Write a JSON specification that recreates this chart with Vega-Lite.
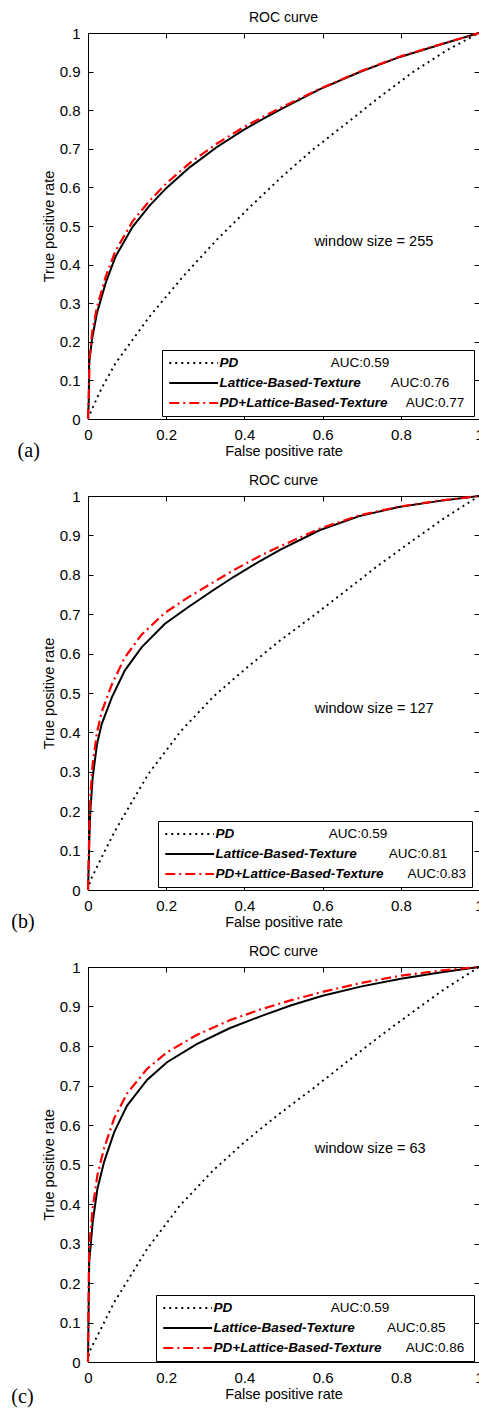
{
  "$schema": "https://vega.github.io/schema/vega-lite/v6.json",
  "background": "white",
  "padding": {"left": 10, "top": 10, "right": 0, "bottom": 0},
  "spacing": 11,
  "config": {
    "font": "Liberation Sans",
    "view": {"stroke": "#000", "strokeWidth": 1},
    "axis": {"grid": false, "domain": false, "tickColor": "#000", "tickWidth": 1, "tickSize": -5, "labelColor": "#000", "labelFontSize": 15, "labelPadding": 13, "labelFlush": false, "labelOverlap": false, "titleFontSize": 14.5, "titleFontWeight": "normal", "titleColor": "#000", "format": "~g"},
    "axisX": {"titlePadding": 2},
    "axisY": {"titlePadding": 3},
    "title": {"fontSize": 14, "fontWeight": "normal", "color": "#000", "offset": 1},
    "legend": {"orient": "none", "title": null, "symbolType": "M-1,0H7.5", "symbolSize": 132, "symbolStrokeWidth": 2, "labelFontSize": 13.5, "labelColor": "#000", "labelLimit": 500, "labelOffset": 37.5, "padding": 6, "rowPadding": 6}
  },
  "datasets": {
    "a": [
      {"series": "PD", "fpr": 0, "tpr": 0, "auc": "AUC:0.59"},
      {"series": "PD", "fpr": 0.01, "tpr": 0.025, "auc": "AUC:0.59"},
      {"series": "PD", "fpr": 0.035, "tpr": 0.08, "auc": "AUC:0.59"},
      {"series": "PD", "fpr": 0.07, "tpr": 0.144, "auc": "AUC:0.59"},
      {"series": "PD", "fpr": 0.157, "tpr": 0.265, "auc": "AUC:0.59"},
      {"series": "PD", "fpr": 0.243, "tpr": 0.369, "auc": "AUC:0.59"},
      {"series": "PD", "fpr": 0.329, "tpr": 0.464, "auc": "AUC:0.59"},
      {"series": "PD", "fpr": 0.415, "tpr": 0.55, "auc": "AUC:0.59"},
      {"series": "PD", "fpr": 0.494, "tpr": 0.626, "auc": "AUC:0.59"},
      {"series": "PD", "fpr": 0.574, "tpr": 0.697, "auc": "AUC:0.59"},
      {"series": "PD", "fpr": 0.661, "tpr": 0.766, "auc": "AUC:0.59"},
      {"series": "PD", "fpr": 0.747, "tpr": 0.835, "auc": "AUC:0.59"},
      {"series": "PD", "fpr": 0.833, "tpr": 0.9, "auc": "AUC:0.59"},
      {"series": "PD", "fpr": 0.919, "tpr": 0.956, "auc": "AUC:0.59"},
      {"series": "PD", "fpr": 1, "tpr": 1, "auc": "AUC:0.59"},
      {"series": "Lattice-Based-Texture", "fpr": 0, "tpr": 0, "auc": "AUC:0.76"},
      {"series": "Lattice-Based-Texture", "fpr": 0.002, "tpr": 0.05, "auc": "AUC:0.76"},
      {"series": "Lattice-Based-Texture", "fpr": 0.003, "tpr": 0.145, "auc": "AUC:0.76"},
      {"series": "Lattice-Based-Texture", "fpr": 0.01, "tpr": 0.205, "auc": "AUC:0.76"},
      {"series": "Lattice-Based-Texture", "fpr": 0.023, "tpr": 0.275, "auc": "AUC:0.76"},
      {"series": "Lattice-Based-Texture", "fpr": 0.045, "tpr": 0.352, "auc": "AUC:0.76"},
      {"series": "Lattice-Based-Texture", "fpr": 0.07, "tpr": 0.42, "auc": "AUC:0.76"},
      {"series": "Lattice-Based-Texture", "fpr": 0.114, "tpr": 0.498, "auc": "AUC:0.76"},
      {"series": "Lattice-Based-Texture", "fpr": 0.157, "tpr": 0.552, "auc": "AUC:0.76"},
      {"series": "Lattice-Based-Texture", "fpr": 0.2, "tpr": 0.598, "auc": "AUC:0.76"},
      {"series": "Lattice-Based-Texture", "fpr": 0.26, "tpr": 0.652, "auc": "AUC:0.76"},
      {"series": "Lattice-Based-Texture", "fpr": 0.329, "tpr": 0.704, "auc": "AUC:0.76"},
      {"series": "Lattice-Based-Texture", "fpr": 0.398, "tpr": 0.749, "auc": "AUC:0.76"},
      {"series": "Lattice-Based-Texture", "fpr": 0.45, "tpr": 0.779, "auc": "AUC:0.76"},
      {"series": "Lattice-Based-Texture", "fpr": 0.5, "tpr": 0.806, "auc": "AUC:0.76"},
      {"series": "Lattice-Based-Texture", "fpr": 0.592, "tpr": 0.854, "auc": "AUC:0.76"},
      {"series": "Lattice-Based-Texture", "fpr": 0.695, "tpr": 0.899, "auc": "AUC:0.76"},
      {"series": "Lattice-Based-Texture", "fpr": 0.798, "tpr": 0.938, "auc": "AUC:0.76"},
      {"series": "Lattice-Based-Texture", "fpr": 0.902, "tpr": 0.97, "auc": "AUC:0.76"},
      {"series": "Lattice-Based-Texture", "fpr": 1, "tpr": 1, "auc": "AUC:0.76"},
      {"series": "PD+Lattice-Based-Texture", "fpr": 0, "tpr": 0, "auc": "AUC:0.77"},
      {"series": "PD+Lattice-Based-Texture", "fpr": 0.002, "tpr": 0.06, "auc": "AUC:0.77"},
      {"series": "PD+Lattice-Based-Texture", "fpr": 0.004, "tpr": 0.16, "auc": "AUC:0.77"},
      {"series": "PD+Lattice-Based-Texture", "fpr": 0.01, "tpr": 0.22, "auc": "AUC:0.77"},
      {"series": "PD+Lattice-Based-Texture", "fpr": 0.023, "tpr": 0.29, "auc": "AUC:0.77"},
      {"series": "PD+Lattice-Based-Texture", "fpr": 0.045, "tpr": 0.368, "auc": "AUC:0.77"},
      {"series": "PD+Lattice-Based-Texture", "fpr": 0.07, "tpr": 0.435, "auc": "AUC:0.77"},
      {"series": "PD+Lattice-Based-Texture", "fpr": 0.114, "tpr": 0.512, "auc": "AUC:0.77"},
      {"series": "PD+Lattice-Based-Texture", "fpr": 0.157, "tpr": 0.565, "auc": "AUC:0.77"},
      {"series": "PD+Lattice-Based-Texture", "fpr": 0.2, "tpr": 0.61, "auc": "AUC:0.77"},
      {"series": "PD+Lattice-Based-Texture", "fpr": 0.26, "tpr": 0.663, "auc": "AUC:0.77"},
      {"series": "PD+Lattice-Based-Texture", "fpr": 0.329, "tpr": 0.713, "auc": "AUC:0.77"},
      {"series": "PD+Lattice-Based-Texture", "fpr": 0.398, "tpr": 0.756, "auc": "AUC:0.77"},
      {"series": "PD+Lattice-Based-Texture", "fpr": 0.45, "tpr": 0.784, "auc": "AUC:0.77"},
      {"series": "PD+Lattice-Based-Texture", "fpr": 0.5, "tpr": 0.81, "auc": "AUC:0.77"},
      {"series": "PD+Lattice-Based-Texture", "fpr": 0.592, "tpr": 0.855, "auc": "AUC:0.77"},
      {"series": "PD+Lattice-Based-Texture", "fpr": 0.695, "tpr": 0.9, "auc": "AUC:0.77"},
      {"series": "PD+Lattice-Based-Texture", "fpr": 0.798, "tpr": 0.939, "auc": "AUC:0.77"},
      {"series": "PD+Lattice-Based-Texture", "fpr": 0.902, "tpr": 0.971, "auc": "AUC:0.77"},
      {"series": "PD+Lattice-Based-Texture", "fpr": 1, "tpr": 1, "auc": "AUC:0.77"}
    ],
    "b": [
      {"series": "PD", "fpr": 0, "tpr": 0, "auc": "AUC:0.59"},
      {"series": "PD", "fpr": 0.006, "tpr": 0.024, "auc": "AUC:0.59"},
      {"series": "PD", "fpr": 0.035, "tpr": 0.083, "auc": "AUC:0.59"},
      {"series": "PD", "fpr": 0.069, "tpr": 0.15, "auc": "AUC:0.59"},
      {"series": "PD", "fpr": 0.154, "tpr": 0.294, "auc": "AUC:0.59"},
      {"series": "PD", "fpr": 0.238, "tpr": 0.404, "auc": "AUC:0.59"},
      {"series": "PD", "fpr": 0.322, "tpr": 0.492, "auc": "AUC:0.59"},
      {"series": "PD", "fpr": 0.407, "tpr": 0.565, "auc": "AUC:0.59"},
      {"series": "PD", "fpr": 0.491, "tpr": 0.633, "auc": "AUC:0.59"},
      {"series": "PD", "fpr": 0.575, "tpr": 0.695, "auc": "AUC:0.59"},
      {"series": "PD", "fpr": 0.66, "tpr": 0.76, "auc": "AUC:0.59"},
      {"series": "PD", "fpr": 0.744, "tpr": 0.825, "auc": "AUC:0.59"},
      {"series": "PD", "fpr": 0.829, "tpr": 0.886, "auc": "AUC:0.59"},
      {"series": "PD", "fpr": 0.913, "tpr": 0.945, "auc": "AUC:0.59"},
      {"series": "PD", "fpr": 1, "tpr": 1, "auc": "AUC:0.59"},
      {"series": "Lattice-Based-Texture", "fpr": 0, "tpr": 0, "auc": "AUC:0.81"},
      {"series": "Lattice-Based-Texture", "fpr": 0.002, "tpr": 0.07, "auc": "AUC:0.81"},
      {"series": "Lattice-Based-Texture", "fpr": 0.004, "tpr": 0.15, "auc": "AUC:0.81"},
      {"series": "Lattice-Based-Texture", "fpr": 0.006, "tpr": 0.2, "auc": "AUC:0.81"},
      {"series": "Lattice-Based-Texture", "fpr": 0.012, "tpr": 0.286, "auc": "AUC:0.81"},
      {"series": "Lattice-Based-Texture", "fpr": 0.023, "tpr": 0.37, "auc": "AUC:0.81"},
      {"series": "Lattice-Based-Texture", "fpr": 0.035, "tpr": 0.421, "auc": "AUC:0.81"},
      {"series": "Lattice-Based-Texture", "fpr": 0.061, "tpr": 0.489, "auc": "AUC:0.81"},
      {"series": "Lattice-Based-Texture", "fpr": 0.094, "tpr": 0.557, "auc": "AUC:0.81"},
      {"series": "Lattice-Based-Texture", "fpr": 0.137, "tpr": 0.616, "auc": "AUC:0.81"},
      {"series": "Lattice-Based-Texture", "fpr": 0.196, "tpr": 0.675, "auc": "AUC:0.81"},
      {"series": "Lattice-Based-Texture", "fpr": 0.255, "tpr": 0.717, "auc": "AUC:0.81"},
      {"series": "Lattice-Based-Texture", "fpr": 0.322, "tpr": 0.762, "auc": "AUC:0.81"},
      {"series": "Lattice-Based-Texture", "fpr": 0.373, "tpr": 0.795, "auc": "AUC:0.81"},
      {"series": "Lattice-Based-Texture", "fpr": 0.44, "tpr": 0.835, "auc": "AUC:0.81"},
      {"series": "Lattice-Based-Texture", "fpr": 0.491, "tpr": 0.863, "auc": "AUC:0.81"},
      {"series": "Lattice-Based-Texture", "fpr": 0.592, "tpr": 0.913, "auc": "AUC:0.81"},
      {"series": "Lattice-Based-Texture", "fpr": 0.694, "tpr": 0.949, "auc": "AUC:0.81"},
      {"series": "Lattice-Based-Texture", "fpr": 0.795, "tpr": 0.972, "auc": "AUC:0.81"},
      {"series": "Lattice-Based-Texture", "fpr": 0.896, "tpr": 0.987, "auc": "AUC:0.81"},
      {"series": "Lattice-Based-Texture", "fpr": 1, "tpr": 1, "auc": "AUC:0.81"},
      {"series": "PD+Lattice-Based-Texture", "fpr": 0, "tpr": 0, "auc": "AUC:0.83"},
      {"series": "PD+Lattice-Based-Texture", "fpr": 0.002, "tpr": 0.09, "auc": "AUC:0.83"},
      {"series": "PD+Lattice-Based-Texture", "fpr": 0.004, "tpr": 0.18, "auc": "AUC:0.83"},
      {"series": "PD+Lattice-Based-Texture", "fpr": 0.006, "tpr": 0.24, "auc": "AUC:0.83"},
      {"series": "PD+Lattice-Based-Texture", "fpr": 0.012, "tpr": 0.32, "auc": "AUC:0.83"},
      {"series": "PD+Lattice-Based-Texture", "fpr": 0.023, "tpr": 0.4, "auc": "AUC:0.83"},
      {"series": "PD+Lattice-Based-Texture", "fpr": 0.035, "tpr": 0.452, "auc": "AUC:0.83"},
      {"series": "PD+Lattice-Based-Texture", "fpr": 0.061, "tpr": 0.522, "auc": "AUC:0.83"},
      {"series": "PD+Lattice-Based-Texture", "fpr": 0.094, "tpr": 0.59, "auc": "AUC:0.83"},
      {"series": "PD+Lattice-Based-Texture", "fpr": 0.137, "tpr": 0.648, "auc": "AUC:0.83"},
      {"series": "PD+Lattice-Based-Texture", "fpr": 0.196, "tpr": 0.703, "auc": "AUC:0.83"},
      {"series": "PD+Lattice-Based-Texture", "fpr": 0.255, "tpr": 0.742, "auc": "AUC:0.83"},
      {"series": "PD+Lattice-Based-Texture", "fpr": 0.322, "tpr": 0.782, "auc": "AUC:0.83"},
      {"series": "PD+Lattice-Based-Texture", "fpr": 0.373, "tpr": 0.812, "auc": "AUC:0.83"},
      {"series": "PD+Lattice-Based-Texture", "fpr": 0.44, "tpr": 0.848, "auc": "AUC:0.83"},
      {"series": "PD+Lattice-Based-Texture", "fpr": 0.491, "tpr": 0.872, "auc": "AUC:0.83"},
      {"series": "PD+Lattice-Based-Texture", "fpr": 0.592, "tpr": 0.917, "auc": "AUC:0.83"},
      {"series": "PD+Lattice-Based-Texture", "fpr": 0.694, "tpr": 0.951, "auc": "AUC:0.83"},
      {"series": "PD+Lattice-Based-Texture", "fpr": 0.795, "tpr": 0.973, "auc": "AUC:0.83"},
      {"series": "PD+Lattice-Based-Texture", "fpr": 0.896, "tpr": 0.988, "auc": "AUC:0.83"},
      {"series": "PD+Lattice-Based-Texture", "fpr": 1, "tpr": 1, "auc": "AUC:0.83"}
    ],
    "c": [
      {"series": "PD", "fpr": 0, "tpr": 0, "auc": "AUC:0.59"},
      {"series": "PD", "fpr": 0.003, "tpr": 0.025, "auc": "AUC:0.59"},
      {"series": "PD", "fpr": 0.033, "tpr": 0.084, "auc": "AUC:0.59"},
      {"series": "PD", "fpr": 0.067, "tpr": 0.151, "auc": "AUC:0.59"},
      {"series": "PD", "fpr": 0.151, "tpr": 0.286, "auc": "AUC:0.59"},
      {"series": "PD", "fpr": 0.235, "tpr": 0.396, "auc": "AUC:0.59"},
      {"series": "PD", "fpr": 0.32, "tpr": 0.485, "auc": "AUC:0.59"},
      {"series": "PD", "fpr": 0.404, "tpr": 0.56, "auc": "AUC:0.59"},
      {"series": "PD", "fpr": 0.489, "tpr": 0.628, "auc": "AUC:0.59"},
      {"series": "PD", "fpr": 0.575, "tpr": 0.692, "auc": "AUC:0.59"},
      {"series": "PD", "fpr": 0.66, "tpr": 0.758, "auc": "AUC:0.59"},
      {"series": "PD", "fpr": 0.744, "tpr": 0.823, "auc": "AUC:0.59"},
      {"series": "PD", "fpr": 0.829, "tpr": 0.885, "auc": "AUC:0.59"},
      {"series": "PD", "fpr": 0.913, "tpr": 0.945, "auc": "AUC:0.59"},
      {"series": "PD", "fpr": 1, "tpr": 1, "auc": "AUC:0.59"},
      {"series": "Lattice-Based-Texture", "fpr": 0, "tpr": 0, "auc": "AUC:0.85"},
      {"series": "Lattice-Based-Texture", "fpr": 0.001, "tpr": 0.083, "auc": "AUC:0.85"},
      {"series": "Lattice-Based-Texture", "fpr": 0.003, "tpr": 0.252, "auc": "AUC:0.85"},
      {"series": "Lattice-Based-Texture", "fpr": 0.012, "tpr": 0.354, "auc": "AUC:0.85"},
      {"series": "Lattice-Based-Texture", "fpr": 0.024, "tpr": 0.438, "auc": "AUC:0.85"},
      {"series": "Lattice-Based-Texture", "fpr": 0.041, "tpr": 0.506, "auc": "AUC:0.85"},
      {"series": "Lattice-Based-Texture", "fpr": 0.067, "tpr": 0.582, "auc": "AUC:0.85"},
      {"series": "Lattice-Based-Texture", "fpr": 0.1, "tpr": 0.649, "auc": "AUC:0.85"},
      {"series": "Lattice-Based-Texture", "fpr": 0.151, "tpr": 0.714, "auc": "AUC:0.85"},
      {"series": "Lattice-Based-Texture", "fpr": 0.202, "tpr": 0.759, "auc": "AUC:0.85"},
      {"series": "Lattice-Based-Texture", "fpr": 0.278, "tpr": 0.805, "auc": "AUC:0.85"},
      {"series": "Lattice-Based-Texture", "fpr": 0.362, "tpr": 0.845, "auc": "AUC:0.85"},
      {"series": "Lattice-Based-Texture", "fpr": 0.446, "tpr": 0.877, "auc": "AUC:0.85"},
      {"series": "Lattice-Based-Texture", "fpr": 0.52, "tpr": 0.903, "auc": "AUC:0.85"},
      {"series": "Lattice-Based-Texture", "fpr": 0.6, "tpr": 0.927, "auc": "AUC:0.85"},
      {"series": "Lattice-Based-Texture", "fpr": 0.7, "tpr": 0.951, "auc": "AUC:0.85"},
      {"series": "Lattice-Based-Texture", "fpr": 0.8, "tpr": 0.97, "auc": "AUC:0.85"},
      {"series": "Lattice-Based-Texture", "fpr": 0.9, "tpr": 0.986, "auc": "AUC:0.85"},
      {"series": "Lattice-Based-Texture", "fpr": 1, "tpr": 1, "auc": "AUC:0.85"},
      {"series": "PD+Lattice-Based-Texture", "fpr": 0, "tpr": 0, "auc": "AUC:0.86"},
      {"series": "PD+Lattice-Based-Texture", "fpr": 0.001, "tpr": 0.12, "auc": "AUC:0.86"},
      {"series": "PD+Lattice-Based-Texture", "fpr": 0.003, "tpr": 0.29, "auc": "AUC:0.86"},
      {"series": "PD+Lattice-Based-Texture", "fpr": 0.012, "tpr": 0.39, "auc": "AUC:0.86"},
      {"series": "PD+Lattice-Based-Texture", "fpr": 0.024, "tpr": 0.473, "auc": "AUC:0.86"},
      {"series": "PD+Lattice-Based-Texture", "fpr": 0.041, "tpr": 0.541, "auc": "AUC:0.86"},
      {"series": "PD+Lattice-Based-Texture", "fpr": 0.067, "tpr": 0.617, "auc": "AUC:0.86"},
      {"series": "PD+Lattice-Based-Texture", "fpr": 0.1, "tpr": 0.68, "auc": "AUC:0.86"},
      {"series": "PD+Lattice-Based-Texture", "fpr": 0.151, "tpr": 0.742, "auc": "AUC:0.86"},
      {"series": "PD+Lattice-Based-Texture", "fpr": 0.202, "tpr": 0.784, "auc": "AUC:0.86"},
      {"series": "PD+Lattice-Based-Texture", "fpr": 0.278, "tpr": 0.828, "auc": "AUC:0.86"},
      {"series": "PD+Lattice-Based-Texture", "fpr": 0.362, "tpr": 0.865, "auc": "AUC:0.86"},
      {"series": "PD+Lattice-Based-Texture", "fpr": 0.446, "tpr": 0.894, "auc": "AUC:0.86"},
      {"series": "PD+Lattice-Based-Texture", "fpr": 0.52, "tpr": 0.916, "auc": "AUC:0.86"},
      {"series": "PD+Lattice-Based-Texture", "fpr": 0.6, "tpr": 0.937, "auc": "AUC:0.86"},
      {"series": "PD+Lattice-Based-Texture", "fpr": 0.7, "tpr": 0.96, "auc": "AUC:0.86"},
      {"series": "PD+Lattice-Based-Texture", "fpr": 0.8, "tpr": 0.978, "auc": "AUC:0.86"},
      {"series": "PD+Lattice-Based-Texture", "fpr": 0.9, "tpr": 0.991, "auc": "AUC:0.86"},
      {"series": "PD+Lattice-Based-Texture", "fpr": 1, "tpr": 1, "auc": "AUC:0.86"}
    ]
  },
  "resolve": {
    "scale": {"x": "independent", "y": "independent", "color": "independent", "strokeDash": "independent", "opacity": "independent"},
    "legend": {"color": "independent", "strokeDash": "independent", "opacity": "independent"}
  },
  "vconcat": [
    {
      "width": 391, "height": 386,
      "title": "ROC curve",
      "data": {"name": "a"},
      "resolve": {"axis": {"x": "independent", "y": "independent"}},
      "layer": [
        {
          "transform": [{"filter": "datum.series == 'PD'"}],
          "mark": {"type": "line", "strokeWidth": 1.9},
          "encoding": {
            "x": {"field": "fpr", "type": "quantitative", "scale": {"domain": [0, 1], "nice": false}, "axis": {"orient": "bottom", "values": [0, 0.2, 0.4, 0.6, 0.8, 1], "title": "False positive rate"}},
            "y": {"field": "tpr", "type": "quantitative", "scale": {"domain": [0, 1], "nice": false}, "axis": {"orient": "left", "values": [0, 0.1, 0.2, 0.3, 0.4, 0.5, 0.6, 0.7, 0.8, 0.9, 1], "title": "True positive rate"}},
            "color": {"field": "series", "type": "nominal", "scale": {"domain": ["PD", "Lattice-Based-Texture", "PD+Lattice-Based-Texture"], "range": ["#000000", "#000000", "#ff0000"]}, "legend": {"legendX": 74, "legendY": 317, "labelFontStyle": "italic", "labelFontWeight": "bold", "zindex": 2}},
            "strokeDash": {"field": "series", "type": "nominal", "scale": {"domain": ["PD", "Lattice-Based-Texture", "PD+Lattice-Based-Texture"], "range": [[2, 4], [1, 0], [10, 4, 2, 4]]}, "legend": {"legendX": 74, "legendY": 317, "labelFontStyle": "italic", "labelFontWeight": "bold", "zindex": 2}},
            "opacity": {"field": "auc", "type": "nominal", "scale": {"domain": ["AUC:0.59", "AUC:0.76", "AUC:0.77"], "range": [1, 1]}, "legend": {"legendX": 74, "legendY": 317, "labelAlign": "right", "labelOffset": 286, "symbolStrokeColor": "transparent", "symbolFillColor": "transparent", "fillColor": "white", "strokeColor": "black", "zindex": 1, "labelExpr": "datum.label + (datum.label == 'AUC:0.59' ? pad('', 21, '\u00a0') : datum.label == 'AUC:0.76' ? pad('', 5, '\u00a0') : pad('', 1, '\u00a0')) + '\u200b'"}}
          }
        },
        {
          "transform": [{"filter": "datum.series == 'Lattice-Based-Texture'"}],
          "mark": {"type": "line", "strokeWidth": 2, "color": "#000000"},
          "encoding": {
            "x": {"field": "fpr", "type": "quantitative", "scale": {"domain": [0, 1], "nice": false}, "axis": {"orient": "top", "values": [0, 0.2, 0.4, 0.6, 0.8, 1], "labels": false, "title": null}},
            "y": {"field": "tpr", "type": "quantitative", "scale": {"domain": [0, 1], "nice": false}, "axis": {"orient": "right", "values": [0, 0.1, 0.2, 0.3, 0.4, 0.5, 0.6, 0.7, 0.8, 0.9, 1], "labels": false, "title": null}}
          }
        },
        {
          "transform": [{"filter": "datum.series == 'PD+Lattice-Based-Texture'"}],
          "mark": {"type": "line", "strokeWidth": 2.2, "color": "#ff0000", "strokeDash": [10, 4, 2, 4]},
          "encoding": {
            "x": {"field": "fpr", "type": "quantitative", "scale": {"domain": [0, 1], "nice": false}, "axis": null},
            "y": {"field": "tpr", "type": "quantitative", "scale": {"domain": [0, 1], "nice": false}, "axis": null}
          }
        },
        {
          "data": {"values": [{"note": "window size = 255"}]},
          "mark": {"type": "text", "align": "left", "baseline": "middle", "fontSize": 14.5, "color": "#000"},
          "encoding": {
            "x": {"datum": 0.579, "type": "quantitative", "scale": {"domain": [0, 1], "nice": false}, "axis": null},
            "y": {"datum": 0.459, "type": "quantitative", "scale": {"domain": [0, 1], "nice": false}, "axis": null},
            "text": {"field": "note"}
          }
        },
        {
          "data": {"values": [{"tag": "(a)"}]},
          "mark": {"type": "text", "align": "left", "baseline": "middle", "fontSize": 20, "font": "Liberation Serif", "color": "#000"},
          "encoding": {
            "x": {"datum": -0.18, "type": "quantitative", "scale": {"domain": [0, 1], "nice": false}, "axis": null},
            "y": {"datum": -0.083, "type": "quantitative", "scale": {"domain": [0, 1], "nice": false}, "axis": null},
            "text": {"field": "tag"}
          }
        }
      ]
    },
    {
      "width": 391, "height": 394,
      "title": "ROC curve",
      "data": {"name": "b"},
      "resolve": {"axis": {"x": "independent", "y": "independent"}},
      "layer": [
        {
          "transform": [{"filter": "datum.series == 'PD'"}],
          "mark": {"type": "line", "strokeWidth": 1.9},
          "encoding": {
            "x": {"field": "fpr", "type": "quantitative", "scale": {"domain": [0, 1], "nice": false}, "axis": {"orient": "bottom", "values": [0, 0.2, 0.4, 0.6, 0.8, 1], "title": "False positive rate"}},
            "y": {"field": "tpr", "type": "quantitative", "scale": {"domain": [0, 1], "nice": false}, "axis": {"orient": "left", "values": [0, 0.1, 0.2, 0.3, 0.4, 0.5, 0.6, 0.7, 0.8, 0.9, 1], "title": "True positive rate"}},
            "color": {"field": "series", "type": "nominal", "scale": {"domain": ["PD", "Lattice-Based-Texture", "PD+Lattice-Based-Texture"], "range": ["#000000", "#000000", "#ff0000"]}, "legend": {"legendX": 70, "legendY": 325, "labelFontStyle": "italic", "labelFontWeight": "bold", "zindex": 2}},
            "strokeDash": {"field": "series", "type": "nominal", "scale": {"domain": ["PD", "Lattice-Based-Texture", "PD+Lattice-Based-Texture"], "range": [[2, 4], [1, 0], [10, 4, 2, 4]]}, "legend": {"legendX": 70, "legendY": 325, "labelFontStyle": "italic", "labelFontWeight": "bold", "zindex": 2}},
            "opacity": {"field": "auc", "type": "nominal", "scale": {"domain": ["AUC:0.59", "AUC:0.81", "AUC:0.83"], "range": [1, 1]}, "legend": {"legendX": 70, "legendY": 325, "labelAlign": "right", "labelOffset": 288, "symbolStrokeColor": "transparent", "symbolFillColor": "transparent", "fillColor": "white", "strokeColor": "black", "zindex": 1, "labelExpr": "datum.label + (datum.label == 'AUC:0.59' ? pad('', 21, '\u00a0') : datum.label == 'AUC:0.81' ? pad('', 5, '\u00a0') : '') + '\u200b'"}}
          }
        },
        {
          "transform": [{"filter": "datum.series == 'Lattice-Based-Texture'"}],
          "mark": {"type": "line", "strokeWidth": 2, "color": "#000000"},
          "encoding": {
            "x": {"field": "fpr", "type": "quantitative", "scale": {"domain": [0, 1], "nice": false}, "axis": {"orient": "top", "values": [0, 0.2, 0.4, 0.6, 0.8, 1], "labels": false, "title": null}},
            "y": {"field": "tpr", "type": "quantitative", "scale": {"domain": [0, 1], "nice": false}, "axis": {"orient": "right", "values": [0, 0.1, 0.2, 0.3, 0.4, 0.5, 0.6, 0.7, 0.8, 0.9, 1], "labels": false, "title": null}}
          }
        },
        {
          "transform": [{"filter": "datum.series == 'PD+Lattice-Based-Texture'"}],
          "mark": {"type": "line", "strokeWidth": 2.2, "color": "#ff0000", "strokeDash": [10, 4, 2, 4]},
          "encoding": {
            "x": {"field": "fpr", "type": "quantitative", "scale": {"domain": [0, 1], "nice": false}, "axis": null},
            "y": {"field": "tpr", "type": "quantitative", "scale": {"domain": [0, 1], "nice": false}, "axis": null}
          }
        },
        {
          "data": {"values": [{"note": "window size = 127"}]},
          "mark": {"type": "text", "align": "left", "baseline": "middle", "fontSize": 14.5, "color": "#000"},
          "encoding": {
            "x": {"datum": 0.58, "type": "quantitative", "scale": {"domain": [0, 1], "nice": false}, "axis": null},
            "y": {"datum": 0.46, "type": "quantitative", "scale": {"domain": [0, 1], "nice": false}, "axis": null},
            "text": {"field": "note"}
          }
        },
        {
          "data": {"values": [{"tag": "(b)"}]},
          "mark": {"type": "text", "align": "left", "baseline": "middle", "fontSize": 20, "font": "Liberation Serif", "color": "#000"},
          "encoding": {
            "x": {"datum": -0.196, "type": "quantitative", "scale": {"domain": [0, 1], "nice": false}, "axis": null},
            "y": {"datum": -0.08, "type": "quantitative", "scale": {"domain": [0, 1], "nice": false}, "axis": null},
            "text": {"field": "tag"}
          }
        }
      ]
    },
    {
      "width": 391, "height": 395,
      "title": "ROC curve",
      "data": {"name": "c"},
      "resolve": {"axis": {"x": "independent", "y": "independent"}},
      "layer": [
        {
          "transform": [{"filter": "datum.series == 'PD'"}],
          "mark": {"type": "line", "strokeWidth": 1.9},
          "encoding": {
            "x": {"field": "fpr", "type": "quantitative", "scale": {"domain": [0, 1], "nice": false}, "axis": {"orient": "bottom", "values": [0, 0.2, 0.4, 0.6, 0.8, 1], "title": "False positive rate"}},
            "y": {"field": "tpr", "type": "quantitative", "scale": {"domain": [0, 1], "nice": false}, "axis": {"orient": "left", "values": [0, 0.1, 0.2, 0.3, 0.4, 0.5, 0.6, 0.7, 0.8, 0.9, 1], "title": "True positive rate"}},
            "color": {"field": "series", "type": "nominal", "scale": {"domain": ["PD", "Lattice-Based-Texture", "PD+Lattice-Based-Texture"], "range": ["#000000", "#000000", "#ff0000"]}, "legend": {"legendX": 68, "legendY": 328, "labelFontStyle": "italic", "labelFontWeight": "bold", "zindex": 2}},
            "strokeDash": {"field": "series", "type": "nominal", "scale": {"domain": ["PD", "Lattice-Based-Texture", "PD+Lattice-Based-Texture"], "range": [[2, 4], [1, 0], [10, 4, 2, 4]]}, "legend": {"legendX": 68, "legendY": 328, "labelFontStyle": "italic", "labelFontWeight": "bold", "zindex": 2}},
            "opacity": {"field": "auc", "type": "nominal", "scale": {"domain": ["AUC:0.59", "AUC:0.85", "AUC:0.86"], "range": [1, 1]}, "legend": {"legendX": 68, "legendY": 328, "labelAlign": "right", "labelOffset": 292, "symbolStrokeColor": "transparent", "symbolFillColor": "transparent", "fillColor": "white", "strokeColor": "black", "zindex": 1, "labelExpr": "datum.label + (datum.label == 'AUC:0.59' ? pad('', 21, '\u00a0') : datum.label == 'AUC:0.85' ? pad('', 6, '\u00a0') : pad('', 1, '\u00a0')) + '\u200b'"}}
          }
        },
        {
          "transform": [{"filter": "datum.series == 'Lattice-Based-Texture'"}],
          "mark": {"type": "line", "strokeWidth": 2, "color": "#000000"},
          "encoding": {
            "x": {"field": "fpr", "type": "quantitative", "scale": {"domain": [0, 1], "nice": false}, "axis": {"orient": "top", "values": [0, 0.2, 0.4, 0.6, 0.8, 1], "labels": false, "title": null}},
            "y": {"field": "tpr", "type": "quantitative", "scale": {"domain": [0, 1], "nice": false}, "axis": {"orient": "right", "values": [0, 0.1, 0.2, 0.3, 0.4, 0.5, 0.6, 0.7, 0.8, 0.9, 1], "labels": false, "title": null}}
          }
        },
        {
          "transform": [{"filter": "datum.series == 'PD+Lattice-Based-Texture'"}],
          "mark": {"type": "line", "strokeWidth": 2.2, "color": "#ff0000", "strokeDash": [10, 4, 2, 4]},
          "encoding": {
            "x": {"field": "fpr", "type": "quantitative", "scale": {"domain": [0, 1], "nice": false}, "axis": null},
            "y": {"field": "tpr", "type": "quantitative", "scale": {"domain": [0, 1], "nice": false}, "axis": null}
          }
        },
        {
          "data": {"values": [{"note": "window size = 63"}]},
          "mark": {"type": "text", "align": "left", "baseline": "middle", "fontSize": 14.5, "color": "#000"},
          "encoding": {
            "x": {"datum": 0.58, "type": "quantitative", "scale": {"domain": [0, 1], "nice": false}, "axis": null},
            "y": {"datum": 0.54, "type": "quantitative", "scale": {"domain": [0, 1], "nice": false}, "axis": null},
            "text": {"field": "note"}
          }
        },
        {
          "data": {"values": [{"tag": "(c)"}]},
          "mark": {"type": "text", "align": "left", "baseline": "middle", "fontSize": 20, "font": "Liberation Serif", "color": "#000"},
          "encoding": {
            "x": {"datum": -0.196, "type": "quantitative", "scale": {"domain": [0, 1], "nice": false}, "axis": null},
            "y": {"datum": -0.089, "type": "quantitative", "scale": {"domain": [0, 1], "nice": false}, "axis": null},
            "text": {"field": "tag"}
          }
        }
      ]
    }
  ]
}
